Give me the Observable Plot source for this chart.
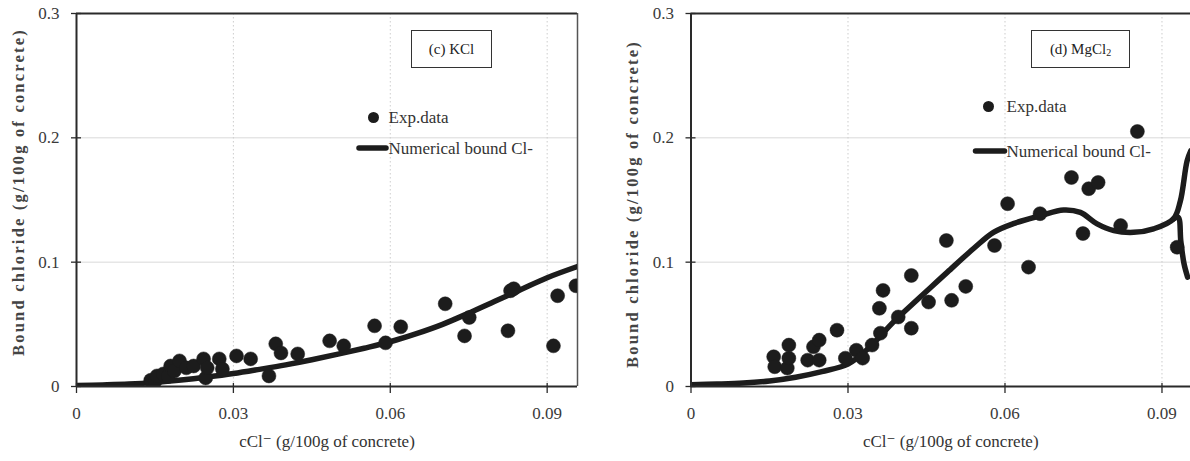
<!DOCTYPE html>
<html>
<head>
<meta charset="utf-8">
<script src="https://cdn.jsdelivr.net/npm/d3@7"></script>
<script src="https://cdn.jsdelivr.net/npm/@observablehq/plot@0.6"></script>
<style>
  html, body { margin: 0; padding: 0; background: #fff; }
  #wrap { position: relative; width: 1190px; height: 461px; overflow: hidden; background: #fff; font-family: "Liberation Serif", "DejaVu Serif", serif; }
  #wrap svg { position: absolute; top: 0; }
  #wrap svg text { font-family: "Liberation Serif", "DejaVu Serif", serif; }
  .tag { position: absolute; border: 1px solid #333; box-sizing: border-box; background: #fff;
         font-family: "Liberation Serif", serif; font-size: 15px; color: #222;
         display: flex; align-items: center; justify-content: center; }
  .tag sub { font-size: 10px; position: relative; top: 3px; vertical-align: baseline; }
</style>
</head>
<body>
<div id="wrap"></div>
<script>
// ---------- data ----------
const xTicks = [0, 0.03, 0.06, 0.09];
const yTicks = [0, 0.1, 0.2, 0.3];
const xTickLabels = ["0", "0.03", "0.06", "0.09"];
const yTickLabels = ["0", "0.1", "0.2", "0.3"];

const yTitle = "Bound chloride (g/100g of concrete)";
const xTitle = "cCl\u207B (g/100g of concrete)";
const legendLabels = ["Exp.data", "Numerical bound Cl-"];
const panelTags = ["(c) KCl", "(d) MgCl"];

// (c) KCl - experimental data
const kclX = [0.0142, 0.0150, 0.0154, 0.0166, 0.0175, 0.0180, 0.0187, 0.0197, 0.0210, 0.0224, 0.0243, 0.0247, 0.0250, 0.0273, 0.0279, 0.0306, 0.0333, 0.0368, 0.0381, 0.0391, 0.0423, 0.0484, 0.0511, 0.0570, 0.0591, 0.0620, 0.0705, 0.0742, 0.0751, 0.0825, 0.0830, 0.0836, 0.0912, 0.0920, 0.0955];
const kclY = [0.0050, 0.0040, 0.0085, 0.0101, 0.0080, 0.0165, 0.0125, 0.0206, 0.0150, 0.0165, 0.0222, 0.0069, 0.0150, 0.0222, 0.0141, 0.0246, 0.0222, 0.0085, 0.0343, 0.0270, 0.0262, 0.0367, 0.0327, 0.0488, 0.0351, 0.0480, 0.0665, 0.0407, 0.0555, 0.0448, 0.0770, 0.0786, 0.0327, 0.0730, 0.0810];
// (c) KCl - numerical curve
const kclLineX = [0, 0.005, 0.01, 0.015, 0.02, 0.025, 0.03, 0.035, 0.04, 0.045, 0.05, 0.055, 0.06, 0.065, 0.07, 0.075, 0.08, 0.085, 0.09, 0.0958];
const kclLineY = [0.0008, 0.0013, 0.002, 0.0033, 0.0052, 0.0076, 0.0104, 0.0138, 0.0174, 0.0215, 0.026, 0.0308, 0.036, 0.0425, 0.050, 0.059, 0.0685, 0.078, 0.0875, 0.0965];

// (d) MgCl2 - experimental data
const mgX = [0.0158, 0.0160, 0.0184, 0.0187, 0.0187, 0.0223, 0.0234, 0.0245, 0.0245, 0.0279, 0.0295, 0.0316, 0.0328, 0.0346, 0.0362, 0.0360, 0.0367, 0.0396, 0.0421, 0.0421, 0.0454, 0.0488, 0.0498, 0.0525, 0.0580, 0.0605, 0.0645, 0.0667, 0.0727, 0.0749, 0.0760, 0.0778, 0.0821, 0.0853, 0.0929];
const mgY = [0.0239, 0.0159, 0.0148, 0.0333, 0.0228, 0.0212, 0.0319, 0.0373, 0.0212, 0.0453, 0.0228, 0.0292, 0.0228, 0.0333, 0.0429, 0.0629, 0.0773, 0.0559, 0.0893, 0.0469, 0.0679, 0.1174, 0.0693, 0.0805, 0.1134, 0.1470, 0.0960, 0.1390, 0.1681, 0.1230, 0.1591, 0.1641, 0.1294, 0.2051, 0.1120];
// (d) MgCl2 - numerical curve (main branch and the lower branch at the end)
const mgLineX = [0, 0.005, 0.01, 0.015, 0.02, 0.025, 0.03, 0.034, 0.0387, 0.0425, 0.046, 0.049, 0.054, 0.0578, 0.0616, 0.0668, 0.0712, 0.0744, 0.0776, 0.0808, 0.0846, 0.0884, 0.0922, 0.0935, 0.0948, 0.0955];
const mgLineY = [0.0015, 0.002, 0.0028, 0.0045, 0.0075, 0.012, 0.018, 0.031, 0.052, 0.067, 0.0805, 0.092, 0.111, 0.124, 0.131, 0.1374, 0.142, 0.140, 0.1308, 0.1254, 0.124, 0.1268, 0.1348, 0.149, 0.1815, 0.1895];
const mgBranchX = [0.0922, 0.0931, 0.0936, 0.0942, 0.0949];
const mgBranchY = [0.1348, 0.136, 0.117, 0.099, 0.088];

// ---------- helpers ----------
const pts = (xs, ys) => xs.map((x, i) => ({x, y: ys[i]}));
const INK = "#1c1c1c";
const FONT = "Liberation Serif";

function panel({width, marginLeft, marginRight, xMax, dots, lines, rightBorder, xTitleDx, yTitleDx, yTitleDy, legend}) {
  const marks = [
    Plot.gridX(xTicks.slice(1), {stroke: "#b8b8b8", strokeOpacity: 0.7, strokeDasharray: "1.5,2.5"}),
    Plot.gridY(yTicks.slice(1, 3), {stroke: "#d0d0d0", strokeOpacity: 0.8}),
    Plot.ruleY([0.3], {stroke: "#2a2a2a", strokeWidth: 2}),
    rightBorder ? Plot.ruleX([xMax], {stroke: "#555", strokeWidth: 1.5}) : null,
    Plot.axisY({ticks: yTicks, tickFormat: d => yTickLabels[yTicks.indexOf(d)], tickSize: 10, dx: 5, tickPadding: 12, fill: "#3a3a3a", stroke: "#2a2a2a", strokeWidth: 1.3, fontFamily: FONT, fontSize: 17, label: null}),
    Plot.axisX({ticks: xTicks, tickFormat: d => xTickLabels[xTicks.indexOf(d)], tickSize: 10, dy: -3, tickPadding: 13, fill: "#3a3a3a", stroke: "#2a2a2a", strokeWidth: 1.3, fontFamily: FONT, fontSize: 17, label: null}),
    ...lines.map(l => Plot.line(l, {x: "x", y: "y", stroke: INK, strokeWidth: 5.5, curve: "catmull-rom", strokeLinecap: "round", strokeLinejoin: "round", clip: true})),
    Plot.dot(dots, {x: "x", y: "y", r: 7, fill: INK, stroke: INK, strokeWidth: 0.5, clip: true}),
    Plot.ruleX([0], {stroke: "#2a2a2a", strokeWidth: 2}),
    Plot.ruleY([0], {stroke: "#2a2a2a", strokeWidth: 2}),
    Plot.text([xTitle], {text: d => d, frameAnchor: "bottom", dx: xTitleDx, dy: 55, textAnchor: "middle", lineAnchor: "middle", fontFamily: FONT, fontSize: 17, fill: "#333"}),
    Plot.text([yTitle], {text: d => d, frameAnchor: "left", dx: yTitleDx, dy: yTitleDy, rotate: -90, textAnchor: "middle", lineAnchor: "middle", fontFamily: FONT, fontSize: 16.5, fontWeight: "bold", fill: "#444"}),
    // legend (inside the frame)
    Plot.dot([legendLabels[0]], {frameAnchor: "top-left", dx: legend.dotX, dy: legend.dotY, r: 5.5, fill: INK}),
    Plot.text([legendLabels[0]], {text: d => d, frameAnchor: "top-left", dx: legend.textX, dy: legend.dotY, textAnchor: "start", lineAnchor: "middle", fontFamily: FONT, fontSize: 17, fill: "#333"}),
    Plot.text([legendLabels[1]], {text: d => d, frameAnchor: "top-left", dx: legend.textX, dy: legend.lineY, textAnchor: "start", lineAnchor: "middle", fontFamily: FONT, fontSize: 17, fill: "#333"})
  ].filter(Boolean);
  const svg = Plot.plot({
    width, height: 461,
    marginLeft, marginRight, marginTop: 13, marginBottom: 75,
    x: {domain: [0, xMax], axis: null},
    y: {domain: [0, 0.3], axis: null},
    style: {fontFamily: FONT, fontSize: "16px", background: "transparent", overflow: "visible"},
    marks
  });
  // legend line sample in plot frame coordinates
  d3.select(svg).append("line")
    .attr("x1", marginLeft + legend.lineX1).attr("x2", marginLeft + legend.lineX2)
    .attr("y1", 13 + legend.lineY).attr("y2", 13 + legend.lineY)
    .attr("stroke", INK).attr("stroke-width", 5.5).attr("stroke-linecap", "round");
  d3.select(svg).selectAll("text").filter(function() { return this.textContent === yTitle; })
    .style("letter-spacing", "2.2px");
  return svg;
}

const wrap = document.getElementById("wrap");

const left = panel({
  width: 600, marginLeft: 76, marginRight: 23, xMax: 0.0958,
  dots: pts(kclX, kclY),
  lines: [pts(kclLineX, kclLineY)],
  rightBorder: true, xTitleDx: 0, yTitleDx: -58, yTitleDy: -8,
  legend: {dotX: 297, dotY: 104, textX: 312, lineX1: 283, lineX2: 310, lineY: 135}
});
left.style.left = "0px";
wrap.appendChild(left);

const right = panel({
  width: 590, marginLeft: 90.5, marginRight: 0, xMax: 0.09545,
  dots: pts(mgX, mgY),
  lines: [pts(mgLineX, mgLineY), pts(mgBranchX, mgBranchY)],
  rightBorder: false, xTitleDx: 10, yTitleDx: -58.5, yTitleDy: 4,
  legend: {dotX: 297.5, dotY: 93, textX: 315.5, lineX1: 285, lineX2: 314, lineY: 138}
});
right.style.left = "600px";
wrap.appendChild(right);

// panel tags (boxed annotations)
const tag1 = document.createElement("div");
tag1.className = "tag";
tag1.style.cssText = "left:411px;top:30px;width:81px;height:38px;";
tag1.textContent = panelTags[0];
wrap.appendChild(tag1);

const tag2 = document.createElement("div");
tag2.className = "tag";
tag2.style.cssText = "left:1031px;top:30px;width:99px;height:38px;";
tag2.innerHTML = panelTags[1] + "<sub>2</sub>";
wrap.appendChild(tag2);
</script>
</body>
</html>
